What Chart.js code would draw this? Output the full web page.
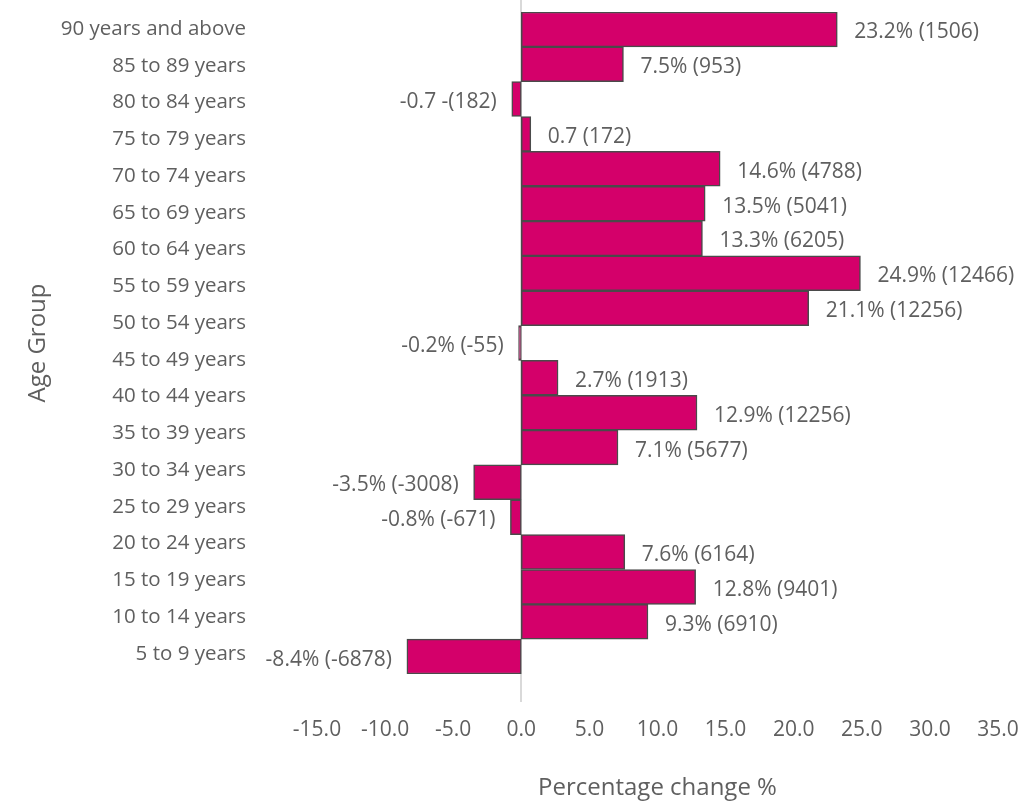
<!DOCTYPE html>
<html>
<head>
<meta charset="utf-8">
<script src="https://cdn.jsdelivr.net/npm/chart.js@4"></script>
<style>
    html, body { margin: 0; padding: 0; background: #ffffff; }
</style>
</head>
<body>
<canvas id="barChart" width="1035" height="803"></canvas>
<script>
// Age groups listed on the left axis, top to bottom
const ageGroups = [
    "90 years and above", "85 to 89 years", "80 to 84 years", "75 to 79 years",
    "70 to 74 years", "65 to 69 years", "60 to 64 years", "55 to 59 years",
    "50 to 54 years", "45 to 49 years", "40 to 44 years", "35 to 39 years",
    "30 to 34 years", "25 to 29 years", "20 to 24 years", "15 to 19 years",
    "10 to 14 years", "5 to 9 years"
];

// Percentage change for each bar, top to bottom
const changePct = [23.2, 7.5, -0.7, 0.7, 14.6, 13.5, 13.3, 24.9, 21.1, -0.2,
    2.7, 12.9, 7.1, -3.5, -0.8, 7.6, 12.8, 9.3, -8.4];

// Text printed beside each bar
const changeLabels = [
    "23.2% (1506)", "7.5% (953)", "-0.7 -(182)", "0.7 (172)", "14.6% (4788)",
    "13.5% (5041)", "13.3% (6205)", "24.9% (12466)", "21.1% (12256)", "-0.2% (-55)",
    "2.7% (1913)", "12.9% (12256)", "7.1% (5677)", "-3.5% (-3008)", "-0.8% (-671)",
    "7.6% (6164)", "12.8% (9401)", "9.3% (6910)", "-8.4% (-6878)"
];

// Range of the percentage axis
const xMin = -15;
const xMax = 35;
const xStep = 5;

// Where the age names sit along their own axis
const ageAxisMin = -0.4624;
const ageAxisMax = 17.546;

const textColor = "#5f5f5f";
const fontFamily = "'Open Sans', Lato, sans-serif";

// Light vertical line through zero, running past the bars
const zeroLine = {
    id: "zeroLine",
    beforeDatasetsDraw(chart) {
        const ctx = chart.ctx;
        const x = Math.round(chart.scales.x.getPixelForValue(0));
        ctx.save();
        ctx.strokeStyle = "#d9d9d9";
        ctx.lineWidth = 2;
        ctx.beginPath();
        ctx.moveTo(x, 0);
        ctx.lineTo(x, chart.chartArea.bottom + 28);
        ctx.stroke();
        ctx.restore();
    }
};

// Value text next to the end of each bar
const barValueLabels = {
    id: "barValueLabels",
    afterDatasetsDraw(chart) {
        const ctx = chart.ctx;
        const meta = chart.getDatasetMeta(0);
        ctx.save();
        ctx.font = "21px " + fontFamily;
        ctx.fillStyle = textColor;
        ctx.textBaseline = "middle";
        meta.data.forEach((bar, i) => {
            const value = chart.data.datasets[0].data[i];
            const text = chart.data.labels[i];
            if (value >= 0) {
                ctx.textAlign = "left";
                ctx.fillText(text, bar.x + 17, bar.y + 3);
            } else {
                ctx.textAlign = "right";
                ctx.fillText(text, bar.x - 15, bar.y + 3);
            }
        });
        ctx.restore();
    }
};

const canvasContext = document.getElementById("barChart").getContext("2d");

const chart = new Chart(canvasContext, {
    type: "bar",
    data: {
        labels: changeLabels,
        datasets: [{
            data: changePct,
            backgroundColor: "#d4006a",
            borderColor: "#4a4a4a",
            borderWidth: 1.5,
            borderSkipped: false,
            barPercentage: 1,
            categoryPercentage: 1,
            xAxisID: "x",
            yAxisID: "y"
        }]
    },
    options: {
        indexAxis: "y",
        responsive: false,
        devicePixelRatio: 1,
        animation: false,
        layout: {
            padding: { top: 12, right: 37, bottom: 0, left: 14 }
        },
        plugins: {
            legend: { display: false },
            tooltip: { enabled: false }
        },
        scales: {
            x: {
                type: "linear",
                position: "bottom",
                min: xMin,
                max: xMax,
                grid: { display: false, drawTicks: false },
                border: { display: false },
                ticks: {
                    stepSize: xStep,
                    autoSkip: false,
                    maxRotation: 0,
                    padding: 43,
                    color: textColor,
                    font: { family: fontFamily, size: 21 },
                    callback: (v) => Number(v).toFixed(1)
                },
                title: {
                    display: true,
                    text: "Percentage change %",
                    color: textColor,
                    font: { family: fontFamily, size: 24 },
                    padding: { top: 0, bottom: 0 }
                },
                afterFit: (scale) => {
                    scale.height = 129;
                    scale.paddingLeft = 0;
                    scale.paddingRight = 0;
                }
            },
            // one slot per bar
            y: {
                type: "category",
                display: false
            },
            // age group names, spaced on their own
            yAge: {
                type: "linear",
                position: "left",
                reverse: true,
                offset: false,
                min: ageAxisMin,
                max: ageAxisMax,
                bounds: "data",
                // hidden tick marks keep the names clear of the bars
                grid: { display: false, offset: false, drawTicks: true, tickLength: 69 },
                border: { display: false },
                afterBuildTicks: (scale) => {
                    scale.ticks = ageGroups.map((_, i) => ({ value: i }));
                    scale.min = ageAxisMin;
                    scale.max = ageAxisMax;
                },
                ticks: {
                    autoSkip: false,
                    padding: 2,
                    color: textColor,
                    font: { family: fontFamily, size: 20.5 },
                    callback: (v) => ageGroups[Math.round(v)]
                },
                title: {
                    display: true,
                    text: "Age Group",
                    color: textColor,
                    font: { family: fontFamily, size: 24 },
                    padding: { top: 10, bottom: 0 }
                },
                afterFit: (scale) => {
                    scale.width = 303;
                    scale.paddingTop = 0;
                    scale.paddingBottom = 0;
                }
            }
        }
    },
    plugins: [zeroLine, barValueLabels]
});
</script>
</body>
</html>
